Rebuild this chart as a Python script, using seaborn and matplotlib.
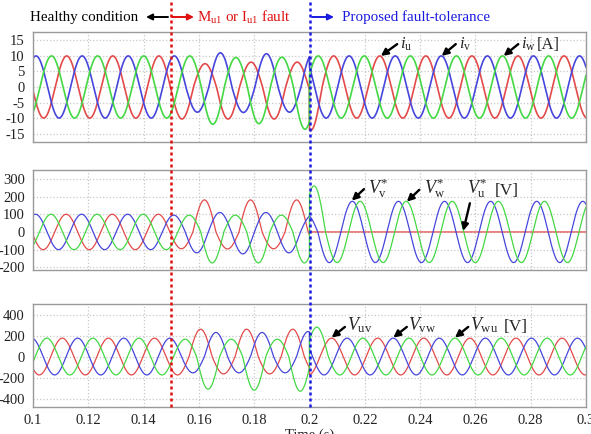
import numpy as np
import pandas as pd
import matplotlib
matplotlib.use('Agg')
import matplotlib.pyplot as plt
import matplotlib.transforms as mtrans
from matplotlib.lines import Line2D
import seaborn as sns

# ── data ───────────────────────────────────────────────────────────
FREQ = 60.0
T_FAULT = 0.15
T_TOL = 0.20
phase_names = ['u', 'v', 'w']
line_colors = ['#e34a4a', '#4646dc', '#44d844']

# i_u, i_v, i_w [A]
cur_peak_pre = [0.1122, 0.1011, 0.1067]          # time of a positive peak (healthy / fault)
cur_amp_pre = [10.0, 10.0, 10.0]
cur_lobes_fault = [[-10.3, 7.5, -10.3, 8.0, -10.3, 8.0, -10.0],
                   [10.0, -8.1, 11.0, -8.2, 10.7, -8.1, 10.7],
                   [10.0, -12.0, 9.5, -11.8, 9.6, -13.6]]
cur_peak_post = [0.2254, 0.2310, 0.2198]
cur_amp_post = [10.0, 10.0, 10.0]
cur_first_post = [14.0, 10.0, 10.0]

# V_u*, V_v*, V_w* [V]
ref_peak_pre = [0.1120, 0.1009, 0.1065]
ref_amp_pre = [100.0, 100.0, 100.0]
ref_lobes_fault = [[-95, 181, -96, 181, -95, 181, -95],
                   [95, -118, 110, -124, 110, -118, 95],
                   [95, -175, 95, -175, 95, -175]]
ref_peak_post = [0.2120, 0.2155, 0.2183]
ref_amp_post = [0.0, 173.0, 173.0]
ref_first_post = [0.0, 100.0, 260.0]

# V_uv, V_vw, V_wu [V]
lin_peak_pre = [0.1106, 0.0995, 0.1050]
lin_amp_pre = [175.0, 175.0, 175.0]
lin_lobes_fault = [[-175, 260, -165, 260, -165, 260, -165],
                   [-155, 229, -155, 229, -155, 238],
                   [165, -310, 165, -320, 165, -330]]
lin_peak_post = [0.2080, 0.2136, 0.2193]
lin_amp_post = [175.0, 175.0, 175.0]
lin_first_post = [175.0, 175.0, 280.0]

x_ticks = [0.1, 0.12, 0.14, 0.16, 0.18, 0.2, 0.22, 0.24, 0.26, 0.28, 0.3]
x_ticklabels = ['0.1', '0.12', '0.14', '0.16', '0.18', '0.2', '0.22', '0.24', '0.26', '0.28', '0.3']
cur_yticks = [-15, -10, -5, 0, 5, 10, 15]
ref_yticks = [-200, -100, 0, 100, 200, 300]
lin_yticks = [-400, -200, 0, 200, 400]


def waveform(t, pk_pre, a_pre, lobes, pk_post, a_post, a_first):
    """sinusoid built lobe by lobe (half cycles), amplitudes per lobe."""
    per = 1.0 / FREQ
    half = per / 2
    y = np.zeros_like(t)
    pre = t < T_TOL
    tp = t[pre]
    k = np.round((tp - pk_pre) / half)
    centre = pk_pre + k * half
    k0 = np.ceil((T_FAULT - pk_pre) / half)
    lob = np.abs(np.asarray(lobes, dtype=float))
    j = np.clip((k - k0).astype(int), 0, len(lob) - 1)
    amp = np.where(centre < T_FAULT, a_pre, lob[j])
    y[pre] = amp * np.cos(2 * np.pi * FREQ * (tp - pk_pre))
    tq = t[~pre]
    k = np.round((tq - pk_post) / half)
    k1 = np.round((T_TOL - pk_post) / half)
    amp = np.where(k == k1, a_first, a_post)
    y[~pre] = amp * np.cos(2 * np.pi * FREQ * (tq - pk_post))
    return y


t = np.linspace(0.1, 0.3, 4001)


def panel_frame(pk_pre, a_pre, lobes, pk_post, a_post, a_first):
    parts = []
    for i, ph in enumerate(phase_names):
        parts.append(pd.DataFrame({
            't': t,
            'val': waveform(t, pk_pre[i], a_pre[i], lobes[i], pk_post[i], a_post[i], a_first[i]),
            'phase': ph}))
    return pd.concat(parts, ignore_index=True)


df_cur = panel_frame(cur_peak_pre, cur_amp_pre, cur_lobes_fault, cur_peak_post, cur_amp_post, cur_first_post)
df_ref = panel_frame(ref_peak_pre, ref_amp_pre, ref_lobes_fault, ref_peak_post, ref_amp_post, ref_first_post)
df_lin = panel_frame(lin_peak_pre, lin_amp_pre, lin_lobes_fault, lin_peak_post, lin_amp_post, lin_first_post)

# ── style ─────────────────────────────────────────────────────────
sns.set_style('white')
plt.rcParams['font.family'] = ['Liberation Serif', 'DejaVu Serif']
plt.rcParams['mathtext.fontset'] = 'custom'
plt.rcParams['mathtext.rm'] = 'Liberation Serif'
plt.rcParams['mathtext.it'] = 'Liberation Serif:italic'
plt.rcParams['axes.unicode_minus'] = False

W, H = 591, 434
fig = plt.figure(figsize=(W / 100, H / 100), dpi=100)


def px_axes(x0, y0, x1, y1):
    return fig.add_axes([x0 / W, 1 - y1 / H, (x1 - x0) / W, (y1 - y0) / H])


ax1 = px_axes(33, 32, 586, 142)
ax2 = px_axes(33, 170, 586, 270)
ax3 = px_axes(33, 304, 586, 407)

palette = dict(zip(phase_names, line_colors))
for ax, df, ylim, yt, lw in [(ax1, df_cur, (-17.7, 17.7), cur_yticks, 1.2),
                             (ax2, df_ref, (-215, 350), ref_yticks, 0.9),
                             (ax3, df_lin, (-480, 500), lin_yticks, 0.9)]:
    sns.lineplot(data=df, x='t', y='val', hue='phase', palette=palette, ax=ax,
                 legend=False, estimator=None, sort=False, linewidth=lw)
    ax.set_xlim(0.1, 0.3)
    ax.set_ylim(*ylim)
    ax.set_xticks(x_ticks)
    ax.set_yticks(yt)
    ax.set_yticklabels([str(v) for v in yt])
    ax.grid(True, color='#c8c8c8', linestyle=':', linewidth=0.9)
    for s in ax.spines.values():
        s.set_color('#9a9a9a')
        s.set_linewidth(1.0)
    ax.tick_params(length=0, pad=6, labelsize=10.5, colors='#222222')
    ax.set_xlabel('')
    ax.set_ylabel('')

ax1.set_xticklabels([])
ax2.set_xticklabels([])
ax3.set_xticklabels(x_ticklabels)
ax3.tick_params(axis='x', pad=5)
ax3.set_xlabel('Time (s)', fontsize=10.5, labelpad=1)

arrow_kw = dict(arrowstyle='-|>', color='black', lw=1.7, mutation_scale=10, shrinkA=0, shrinkB=0)

# current labels
for txt, tail, tip, tx in [(r'$i_{\rm u}$', (0.2317, 13.8), (0.2258, 10.0), 0.2329),
                           (r'$i_{\rm v}$', (0.2529, 13.8), (0.2478, 10.0), 0.2541),
                           (r'$i_{\rm w}$', (0.2755, 13.8), (0.2702, 10.0), 0.2765)]:
    ax1.annotate('', xy=tip, xytext=tail, arrowprops=arrow_kw)
    ax1.text(tx, 13.6, txt, fontsize=12, va='center', ha='left')
ax1.text(0.2823, 13.6, '[A]', fontsize=12, va='center', ha='left')

# reference voltage labels
for txt, tail, tip, tx in [(r'$V_{\rm v}^{*}$', (0.2197, 242), (0.2153, 177), 0.2212),
                           (r'$V_{\rm w}^{*}$', (0.2397, 238), (0.2352, 171), 0.2414),
                           (r'$V_{\rm u}^{*}$', (0.2580, 162), (0.2556, 6), 0.2570)]:
    ax2.annotate('', xy=tip, xytext=tail, arrowprops=arrow_kw)
    ax2.text(tx, 248, txt, fontsize=13, va='center', ha='left')
ax2.text(0.2671, 232, '[V]', fontsize=12.5, va='center', ha='left')

# line voltage labels
for txt, tail, tip, tx in [(r'$V_{\rm uv}$', (0.2128, 282), (0.2080, 180), 0.2134),
                           (r'$V_{\rm vw}$', (0.2352, 282), (0.2303, 180), 0.2357),
                           (r'$V_{\rm wu}$', (0.2574, 282), (0.2526, 180), 0.2581)]:
    ax3.annotate('', xy=tip, xytext=tail, arrowprops=arrow_kw)
    ax3.text(tx, 300, txt, fontsize=13, va='center', ha='left')
ax3.text(0.2701, 285, '[V]', fontsize=12.5, va='center', ha='left')

# event lines across the whole figure
bt = mtrans.blended_transform_factory(ax3.transData, fig.transFigure)
y_bot = 1 - 407 / H
fig.add_artist(Line2D([T_FAULT, T_FAULT], [y_bot, 1.0], transform=bt, color='#e01010',
                      linestyle=(0, (1.2, 1.2)), linewidth=1.8))
fig.add_artist(Line2D([T_TOL, T_TOL], [y_bot, 0.995], transform=bt, color='#1a1ae0',
                      linestyle=(0, (1.2, 1.2)), linewidth=1.8))

# header
yh = 1 - 17 / H
fig.text(30 / W, yh, 'Healthy condition', fontsize=10.8, va='center', ha='left', color='black')
fig.text(197 / W, yh, r'M$_{\rm u1}$ or I$_{\rm u1}$ fault', fontsize=10.8, va='center', ha='left',
         color='#e01010')
fig.text(342 / W, yh, 'Proposed fault-tolerance', fontsize=10.8, va='center', ha='left',
         color='#1a1ae0')
hdr_kw = dict(arrowstyle='-|>', lw=1.4, mutation_scale=9, shrinkA=0, shrinkB=0)
for x0, x1, c in [(168, 146, 'black'), (172, 194, '#e01010'), (312, 334, '#1a1ae0')]:
    fig.add_artist(matplotlib.patches.FancyArrowPatch((x0 / W, yh), (x1 / W, yh),
                                                      transform=fig.transFigure, color=c, **hdr_kw))

fig.savefig('out.png', dpi=100)
